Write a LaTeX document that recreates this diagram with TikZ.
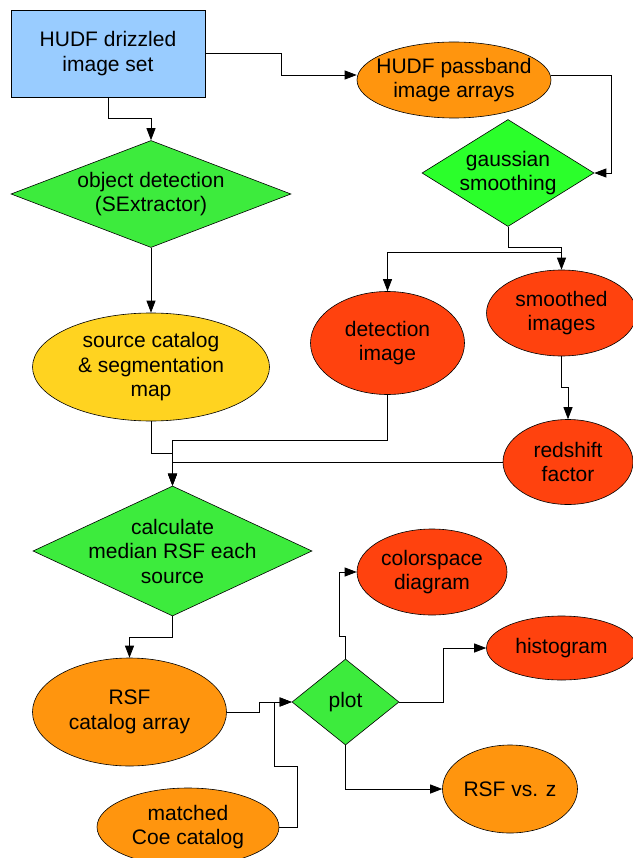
\documentclass[tikz,border=0pt]{standalone}
\usepackage{fontspec}
\setmainfont{Liberation Sans}
\usetikzlibrary{shapes.geometric,arrows.meta}

\definecolor{skyblue}{HTML}{99CCFF}
\definecolor{orng}{HTML}{FF950E}
\definecolor{rust}{HTML}{FF420E}
\definecolor{gold}{HTML}{FFD320}
\definecolor{leaf}{HTML}{3DEB3D}
\definecolor{lime}{HTML}{2BFF2B}

\begin{document}
\begin{tikzpicture}[-{Triangle[length=12pt,width=9pt]}, x=1pt, y=-1pt, line width=0.8pt,
    every node/.style={draw, line width=0.6pt, align=center, inner ysep=0pt, inner xsep=-20pt,
        font=\fontsize{21}{24.5}\selectfont},
    box/.style={rectangle, fill=skyblue},
    oval/.style={ellipse},
    test/.style={diamond, fill=leaf}]
            \useasboundingbox (0,0) rectangle (632,858);

            \node[box, minimum width=194, minimum height=87] (1) at (108,53.5) {HUDF drizzled\\image set};
            \node[oval, fill=orng, minimum width=194, minimum height=76] (2) at (454,80) {HUDF passband\\image arrays};
            \node[test, fill=lime, shape aspect=1.61, minimum width=172, minimum height=107] (3) at (508,173) {gaussian\\smoothing};
            \node[test, shape aspect=2.62, minimum width=280, minimum height=107] (4) at (151,194) {object detection\\(SExtractor)};
            \node[oval, fill=rust, minimum width=154, minimum height=103] (5) at (387.5,343) {detection\\image};
            \node[oval, fill=rust, minimum width=150, minimum height=86] (6) at (561.5,313) {smoothed\\images};
            \node[oval, fill=gold, minimum width=237, minimum height=108] (7) at (151,367) {source catalog\\\& segmentation\\map};
            \node[oval, fill=rust, minimum width=130, minimum height=85] (8) at (568,462) {redshift\\factor};
            \node[test, shape aspect=2.15, minimum width=279, minimum height=130] (9) at (172.5,551) {calculate\\median RSF each\\source};
            \node[oval, fill=orng, minimum width=194, minimum height=108] (10) at (129.5,712) {RSF\\catalog array};
            \node[test, shape aspect=1.24, minimum width=107, minimum height=86] (11) at (345.5,702) {plot};
            \node[oval, fill=orng, minimum width=182, minimum height=78] (12) at (188,827) {matched\\Coe catalog};
            \node[oval, fill=rust, minimum width=150, minimum height=86] (13) at (432,572) {colorspace\\diagram};
            \node[oval, fill=rust, minimum width=150, minimum height=64] (14) at (561.5,648) {histogram};
            \node[oval, fill=orng, minimum width=135, minimum height=88] (15) at (510,789) {RSF vs. z};

            \path (6.north) ++(0,-17) coordinate (fork);

            \draw (1.south) -- ++(0,21) -| (4.north);
            \draw (1.east) -- ++(76,0) |- ([yshift=5pt]2.west);
            \draw ([yshift=5pt]2.east) -- ++(60,0) |- (3.east);
            \draw (3.south) -- ++(0,21) -| (6.north);
            \draw (fork) -| (5.north);
            \draw (4.south) -- (7.north);
            \draw (6.south) -- ++(0,31) -| (8.north);
            \draw (7.south) -- ++(0,32) -| (9.north);
            \draw (5.south) -- ++(0,46) -| (9.north);
            \draw (8.west) -| (9.north);
            \draw (9.south) -- ++(0,21) -| (10.north);
            \draw (10.east) -- ++(32.5,0) |- (11.west);
            \draw (12.east) -- ++(18,0) -- ++(0,-61) -- ++(-23,0) |- (11.west);
            \draw (11.north) -- ++(0,-22) -- ++(-6,0) |- (13.west);
            \draw (11.east) -- ++(44,0) |- (14.west);
            \draw (11.south) |- (15.west);
        \end{tikzpicture}
\end{document}
